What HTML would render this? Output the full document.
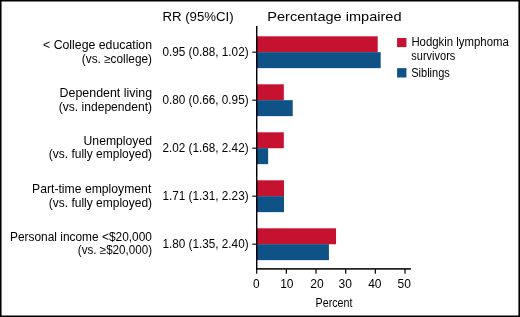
<!DOCTYPE html>
<html><head><meta charset="utf-8">
<style>
html,body{margin:0;padding:0;background:#fff;}
body{width:520px;height:317px;overflow:hidden;position:relative;font-family:"Liberation Sans",sans-serif;}
svg{position:absolute;left:0;top:0;display:block;will-change:transform;}
text{font-family:"Liberation Sans",sans-serif;fill:#000;}
.l{font-size:12.1px;text-anchor:end;}
.r{font-size:11.5px;}
.n{font-size:12.2px;}
.g{font-size:12px;}
.h{font-size:13.4px;}
.t{font-size:12.7px;text-anchor:middle;}
.p{font-size:13.6px;text-anchor:middle;}
</style></head><body>
<svg width="520" height="317" viewBox="0 0 520 317">
<!-- border -->
<rect x="0" y="0" width="520" height="1.5" fill="#000"/>
<rect x="0" y="0" width="1.55" height="317" fill="#000"/>
<rect x="518.4" y="0" width="1.6" height="317" fill="#000"/>
<rect x="0" y="315.5" width="520" height="1.5" fill="#000"/>

<!-- headers -->
<text class="h" x="162.4" y="20.6" textLength="71.3" lengthAdjust="spacingAndGlyphs">RR (95%CI)</text>
<text class="h" x="267.3" y="20.7" textLength="134.2" lengthAdjust="spacingAndGlyphs">Percentage impaired</text>

<!-- bars -->
<g>
<rect x="257" y="36.30" width="120.71" height="15.95" fill="#c41230"/>
<rect x="257" y="52.15" width="123.68" height="16" fill="#0f5286"/>
<rect x="257" y="84.30" width="26.84" height="15.95" fill="#c41230"/>
<rect x="257" y="100.15" width="35.74" height="16" fill="#0f5286"/>
<rect x="257" y="132.30" width="26.84" height="15.95" fill="#c41230"/>
<rect x="257" y="148.15" width="11.12" height="16" fill="#0f5286"/>
<rect x="257" y="180.30" width="26.99" height="15.95" fill="#c41230"/>
<rect x="257" y="196.15" width="26.99" height="16" fill="#0f5286"/>
<rect x="257" y="228.30" width="79.04" height="15.95" fill="#c41230"/>
<rect x="257" y="244.15" width="71.92" height="16" fill="#0f5286"/>
</g>

<!-- axes -->
<rect x="256.0" y="25.9" width="1.45" height="243.7" fill="#000"/>
<rect x="256.05" y="268.15" width="154.85" height="1.5" fill="#000"/>
<g fill="#000">
<rect x="252.3" y="51.62" width="4.4" height="1.15"/>
<rect x="252.3" y="99.62" width="4.4" height="1.15"/>
<rect x="252.3" y="147.62" width="4.4" height="1.15"/>
<rect x="252.3" y="195.62" width="4.4" height="1.15"/>
<rect x="252.3" y="243.62" width="4.4" height="1.15"/>
<rect x="256.10" y="269" width="1.2" height="4.7"/>
<rect x="285.76" y="269" width="1.2" height="4.7"/>
<rect x="315.42" y="269" width="1.2" height="4.7"/>
<rect x="345.08" y="269" width="1.2" height="4.7"/>
<rect x="374.74" y="269" width="1.2" height="4.7"/>
<rect x="404.40" y="269" width="1.2" height="4.7"/>
</g>

<!-- tick labels -->
<text class="t" x="256.35" y="287.55" textLength="6.6" lengthAdjust="spacingAndGlyphs">0</text>
<text class="t" x="286.85" y="287.55" textLength="13.4" lengthAdjust="spacingAndGlyphs">10</text>
<text class="t" x="316.95" y="287.55" textLength="13.4" lengthAdjust="spacingAndGlyphs">20</text>
<text class="t" x="345.20" y="287.55" textLength="13.4" lengthAdjust="spacingAndGlyphs">30</text>
<text class="t" x="374.85" y="287.55" textLength="13.4" lengthAdjust="spacingAndGlyphs">40</text>
<text class="t" x="404.30" y="287.55" textLength="13.4" lengthAdjust="spacingAndGlyphs">50</text>
<text class="p" x="334.0" y="306.55" textLength="36.8" lengthAdjust="spacingAndGlyphs">Percent</text>

<!-- row labels -->
<text class="l" x="152.05" y="48.65" textLength="109" lengthAdjust="spacingAndGlyphs">&lt; College education</text>
<text class="l" x="152.05" y="62.6" textLength="70.25" lengthAdjust="spacingAndGlyphs">(vs. ≥college)</text>
<text class="l" x="152.05" y="96.75" textLength="92.5" lengthAdjust="spacingAndGlyphs">Dependent living</text>
<text class="l" x="152.05" y="110.7" textLength="93.3" lengthAdjust="spacingAndGlyphs">(vs. independent)</text>
<text class="l" x="152.05" y="144.70" textLength="68.5" lengthAdjust="spacingAndGlyphs">Unemployed</text>
<text class="l" x="152.05" y="158.1" textLength="103.25" lengthAdjust="spacingAndGlyphs">(vs. fully employed)</text>
<text class="l" x="151.3" y="192.65" textLength="119.25" lengthAdjust="spacingAndGlyphs">Part-time employment</text>
<text class="l" x="152.05" y="206.6" textLength="103.25" lengthAdjust="spacingAndGlyphs">(vs. fully employed)</text>
<text class="l" x="151.95" y="240.70" textLength="141.95" lengthAdjust="spacingAndGlyphs">Personal income &lt;$20,000</text>
<text class="l" x="152.05" y="254.1" textLength="74.25" lengthAdjust="spacingAndGlyphs">(vs. ≥$20,000)</text>

<!-- RR -->
<text class="n" x="162.4" y="55.8" textLength="86.2" lengthAdjust="spacingAndGlyphs">0.95 (0.88, 1.02)</text>
<text class="n" x="162.4" y="104.2" textLength="86.2" lengthAdjust="spacingAndGlyphs">0.80 (0.66, 0.95)</text>
<text class="n" x="162.4" y="152.4" textLength="86.2" lengthAdjust="spacingAndGlyphs">2.02 (1.68, 2.42)</text>
<text class="n" x="162.4" y="200.2" textLength="86.2" lengthAdjust="spacingAndGlyphs">1.71 (1.31, 2.23)</text>
<text class="n" x="162.4" y="248.2" textLength="86.2" lengthAdjust="spacingAndGlyphs">1.80 (1.35, 2.40)</text>

<!-- legend -->
<rect x="397.1" y="38.0" width="9.35" height="9.1" fill="#c41230"/>
<rect x="397.1" y="68.15" width="9.35" height="9.35" fill="#0f5286"/>
<text class="g" x="411.4" y="46.3" textLength="97.4" lengthAdjust="spacingAndGlyphs">Hodgkin lymphoma</text>
<text class="g" x="411.3" y="59.8" textLength="44.0" lengthAdjust="spacingAndGlyphs">survivors</text>
<text class="g" x="411.2" y="76.7" textLength="38.7" lengthAdjust="spacingAndGlyphs">Siblings</text>
</svg>
</body></html>
